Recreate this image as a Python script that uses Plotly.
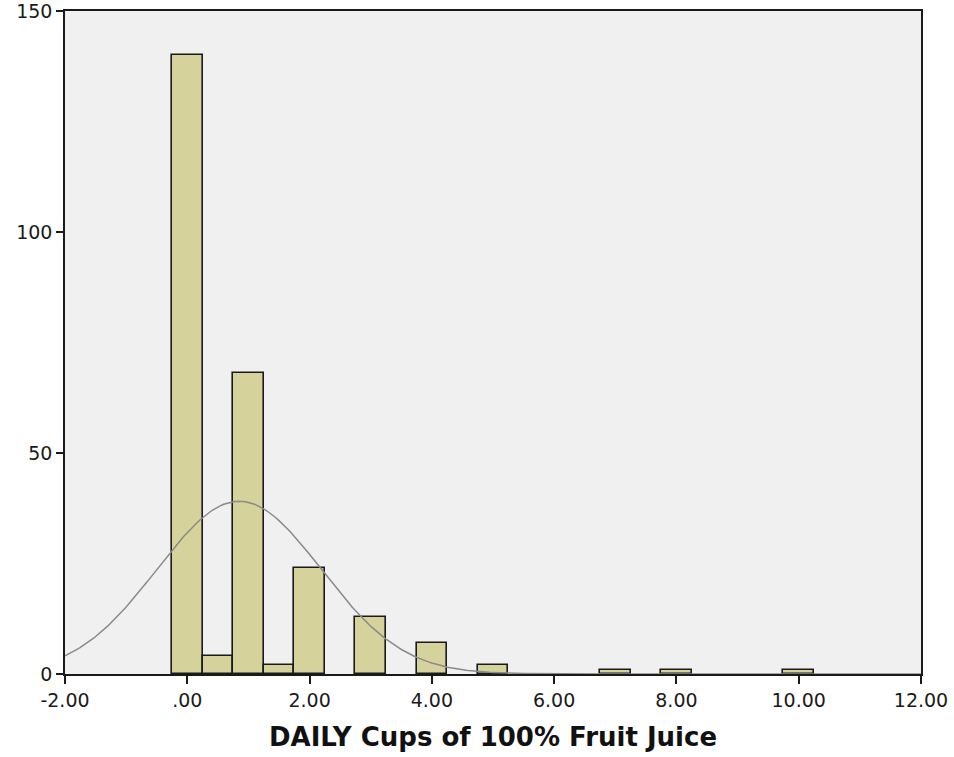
import numpy as np
import plotly.graph_objects as go

# Bin centers (cups) and counts
bin_centers = [0.0, 0.5, 1.0, 1.5, 2.0, 3.0, 4.0, 5.0, 7.0, 8.0, 10.0]
counts = [140, 4, 68, 2, 24, 13, 7, 2, 1, 1, 1]
bin_width = 0.5

x_tickvals = [-2, 0, 2, 4, 6, 8, 10, 12]
x_ticktext = ["-2.00", ".00", "2.00", "4.00", "6.00", "8.00", "10.00", "12.00"]
y_tickvals = [0, 50, 100, 150]

# Normal curve fitted from the histogram data
c = np.array(bin_centers)
n = np.array(counts)
N = n.sum()
mean = (c * n).sum() / N
sd = np.sqrt(((c - mean) ** 2 * n).sum() / (N - 1))
xs = np.linspace(-2, 12, 400)
ys = N * bin_width / (sd * np.sqrt(2 * np.pi)) * np.exp(-0.5 * ((xs - mean) / sd) ** 2)

fig = go.Figure()
fig.add_trace(go.Bar(
    x=bin_centers, y=counts, width=bin_width,
    marker=dict(color="#D6D29C", line=dict(color="#1a1a1a", width=1.6)),
    showlegend=False,
))
fig.add_trace(go.Scatter(
    x=xs, y=ys, mode="lines",
    line=dict(color="#8a8a8a", width=1.5),
    showlegend=False,
))

fig.update_layout(
    width=954, height=757,
    margin=dict(l=65, r=33, t=11, b=83),
    paper_bgcolor="white",
    plot_bgcolor="#F0F0F0",
    font=dict(family="DejaVu Sans, Arial, sans-serif", size=19, color="#1a1a1a"),
    bargap=0,
)
fig.update_xaxes(
    range=[-2, 12], tickvals=x_tickvals, ticktext=x_ticktext,
    showgrid=False, zeroline=False, automargin=False, ticklabeloverflow="allow",
    showline=True, linecolor="#1a1a1a", linewidth=1.5, mirror=True,
    ticks="outside", ticklen=8, tickwidth=1.5, tickcolor="#1a1a1a",
    title=dict(text="<b>DAILY Cups of 100% Fruit Juice</b>",
               font=dict(size=26, family="DejaVu Sans, Arial, sans-serif", color="#111"),
               standoff=18),
)
fig.update_yaxes(
    range=[0, 150], tickvals=y_tickvals,
    showgrid=False, zeroline=False, automargin=False, ticklabeloverflow="allow",
    showline=True, linecolor="#1a1a1a", linewidth=1.5, mirror=True,
    ticks="outside", ticklen=7, tickwidth=1.5, tickcolor="#1a1a1a",
)

fig.write_html("out.html")
